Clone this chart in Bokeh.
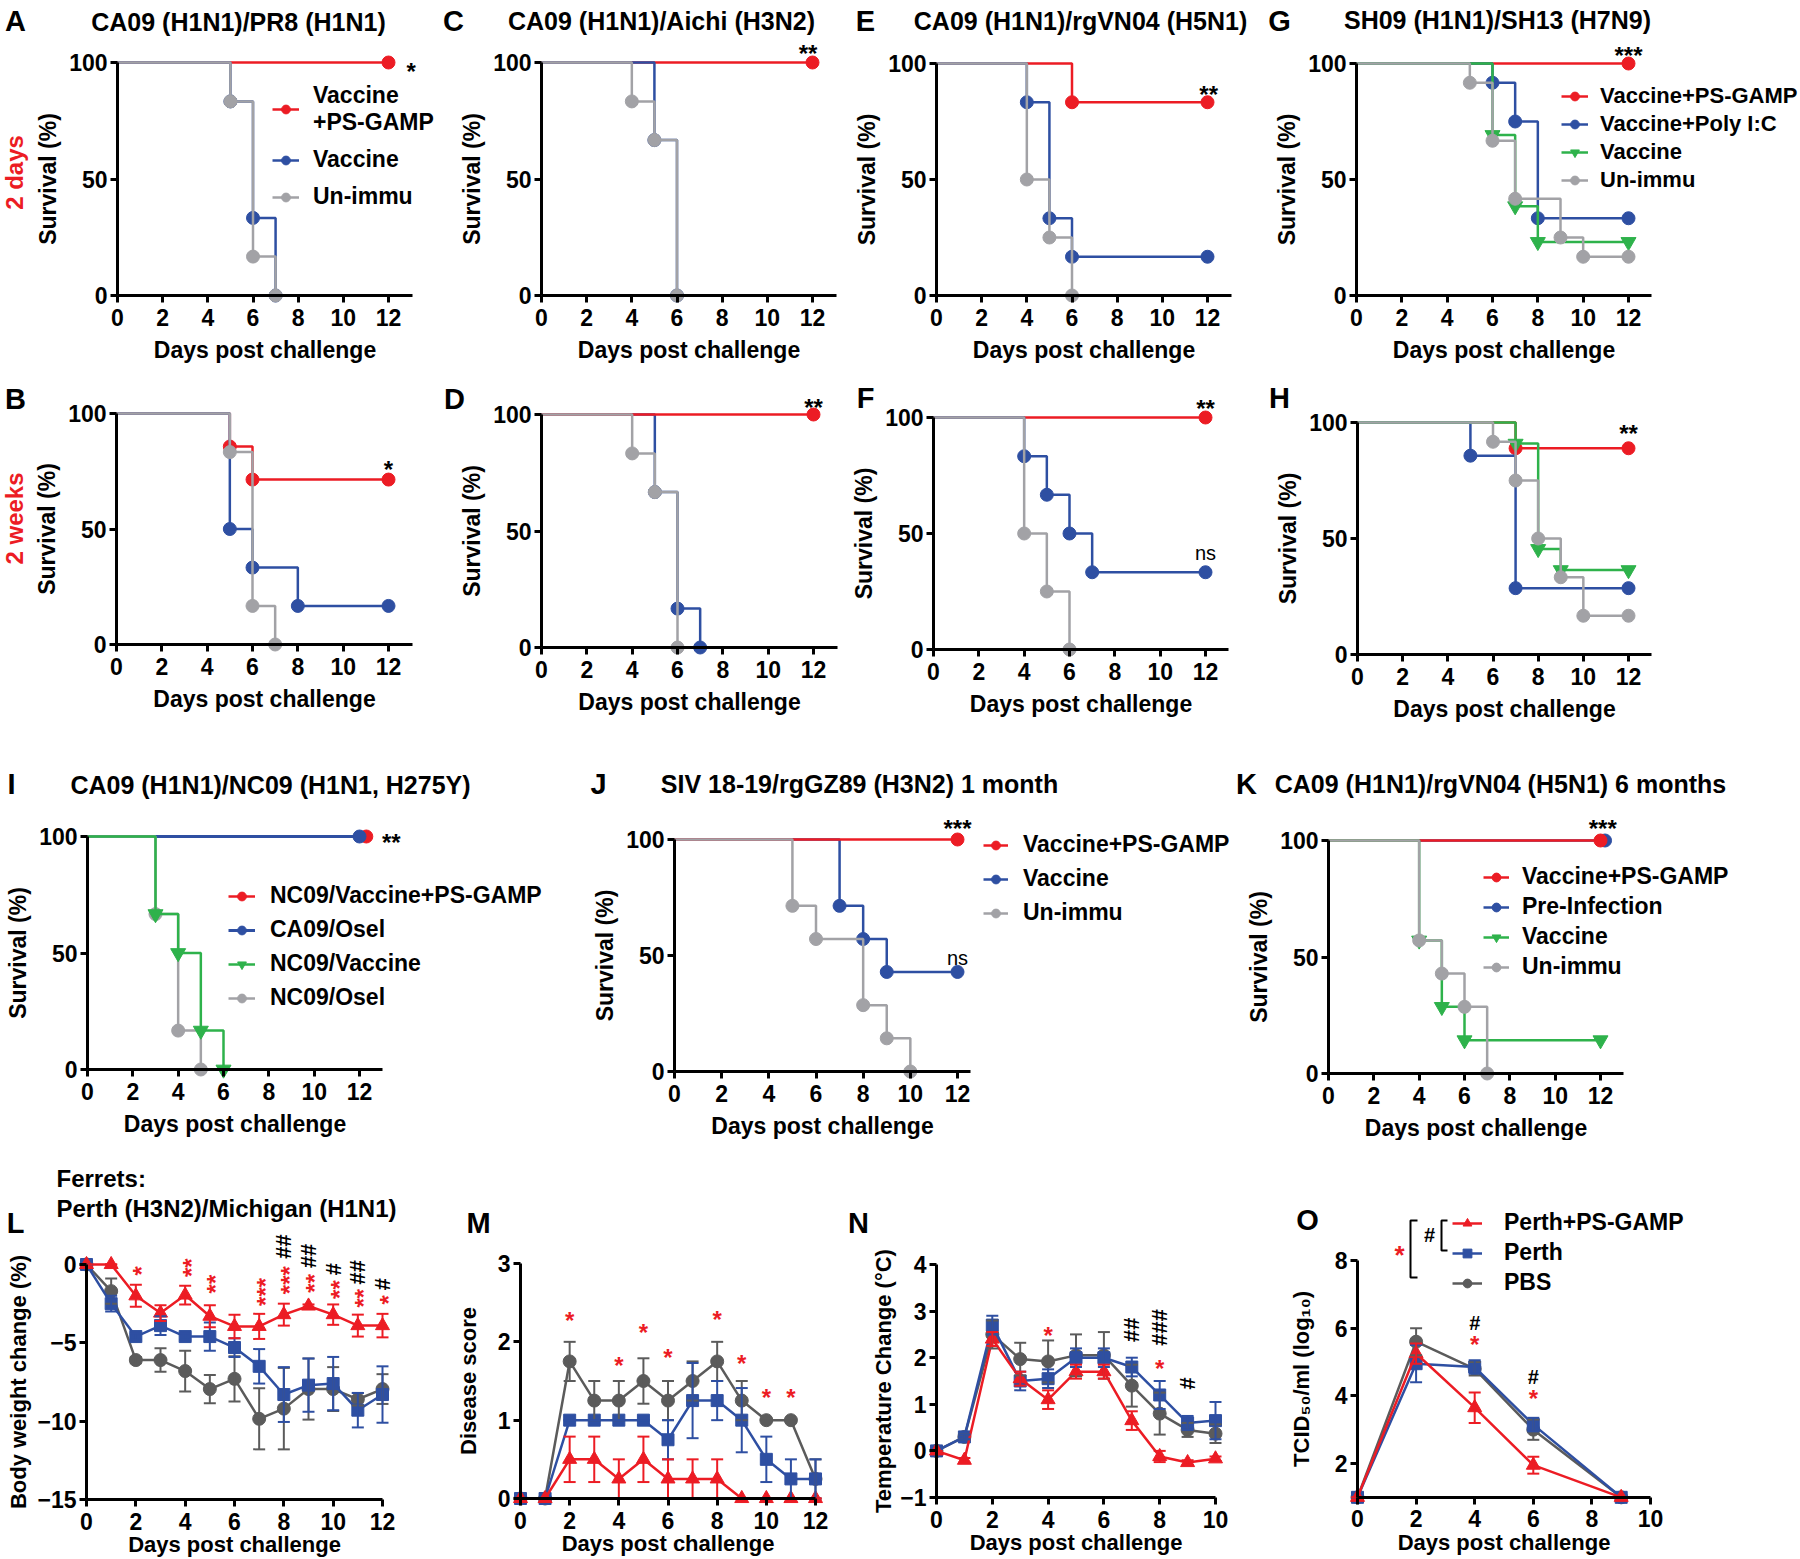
import math
from bokeh.plotting import figure
from bokeh.models import (Range1d, FixedTicker, Label, Legend, LegendItem,
                          ColumnDataSource, Whisker, TeeHead)
from bokeh.layouts import column, row
from bokeh.embed import file_html
from bokeh.resources import INLINE

RED = "#EC1C24"
BLUE = "#2E4FA2"
GRAY = "#A2A2A6"
GREEN = "#2EB24B"
DGRAY = "#5B5B5B"
FONT = "Liberation Sans"

# ---------------- survival data (day, % surviving) ----------------
A_psgamp_day = [0, 12];              A_psgamp_pct = [100, 100]
A_vacc_day = [0, 5, 6, 7];           A_vacc_pct = [100, 83.3, 33.3, 0]
A_unimm_day = [0, 5, 6, 7];          A_unimm_pct = [100, 83.3, 16.7, 0]

C_psgamp_day = [0, 12];              C_psgamp_pct = [100, 100]
C_vacc_day = [0, 5, 6];              C_vacc_pct = [100, 66.7, 0]
C_unimm_day = [0, 4, 5, 6];          C_unimm_pct = [100, 83.3, 66.7, 0]

E_psgamp_day = [0, 6, 12];           E_psgamp_pct = [100, 83.3, 83.3]
E_vacc_day = [0, 4, 5, 6, 12];       E_vacc_pct = [100, 83.3, 33.3, 16.7, 16.7]
E_unimm_day = [0, 4, 5, 6];          E_unimm_pct = [100, 50, 25, 0]

G_psgamp_day = [0, 12];              G_psgamp_pct = [100, 100]
G_polyic_day = [0, 6, 7, 8, 12];     G_polyic_pct = [100, 91.7, 75, 33.3, 33.3]
G_vacc_day = [0, 6, 7, 8, 12];       G_vacc_pct = [100, 69.2, 38.5, 23.1, 23.1]
G_unimm_day = [0, 5, 6, 7, 9, 10, 12]; G_unimm_pct = [100, 91.7, 66.7, 41.7, 25, 16.7, 16.7]

B_psgamp_day = [0, 5, 6, 12];        B_psgamp_pct = [100, 85.7, 71.4, 71.4]
B_vacc_day = [0, 5, 6, 8, 12];       B_vacc_pct = [100, 50, 33.3, 16.7, 16.7]
B_unimm_day = [0, 5, 6, 7];          B_unimm_pct = [100, 83.3, 16.7, 0]

D_psgamp_day = [0, 12];              D_psgamp_pct = [100, 100]
D_vacc_day = [0, 5, 6, 7];           D_vacc_pct = [100, 66.7, 16.7, 0]
D_unimm_day = [0, 4, 5, 6];          D_unimm_pct = [100, 83.3, 66.7, 0]

F_psgamp_day = [0, 12];              F_psgamp_pct = [100, 100]
F_vacc_day = [0, 4, 5, 6, 7, 12];    F_vacc_pct = [100, 83.3, 66.7, 50, 33.3, 33.3]
F_unimm_day = [0, 4, 5, 6];          F_unimm_pct = [100, 50, 25, 0]

H_psgamp_day = [0, 7, 12];           H_psgamp_pct = [100, 88.9, 88.9]
H_polyic_day = [0, 5, 7, 12];        H_polyic_pct = [100, 85.7, 28.6, 28.6]
H_vacc_day = [0, 7, 8, 9, 12];       H_vacc_pct = [100, 90.9, 45.5, 36.4, 36.4]
H_unimm_day = [0, 6, 7, 8, 9, 10, 12]; H_unimm_pct = [100, 91.7, 75, 50, 33.3, 16.7, 16.7]

I_nc09_psgamp_day = [0, 12.3];       I_nc09_psgamp_pct = [100, 100]
I_ca09_osel_day = [0, 12];           I_ca09_osel_pct = [100, 100]
I_nc09_vacc_day = [0, 3, 4, 5, 6];   I_nc09_vacc_pct = [100, 66.7, 50, 16.7, 0]
I_nc09_osel_day = [0, 3, 4, 5];      I_nc09_osel_pct = [100, 66.7, 16.7, 0]

J_psgamp_day = [0, 12];              J_psgamp_pct = [100, 100]
J_vacc_day = [0, 7, 8, 9, 12];       J_vacc_pct = [100, 71.4, 57.1, 42.9, 42.9]
J_unimm_day = [0, 5, 6, 8, 9, 10];   J_unimm_pct = [100, 71.4, 57.1, 28.6, 14.3, 0]

K_psgamp_day = [0, 12];              K_psgamp_pct = [100, 100]
K_preinf_day = [0, 12.2];            K_preinf_pct = [100, 100]
K_vacc_day = [0, 4, 5, 6, 12];       K_vacc_pct = [100, 57.1, 28.6, 14.3, 14.3]
K_unimm_day = [0, 4, 5, 6, 7];       K_unimm_pct = [100, 57.1, 42.9, 28.6, 0]

SURV_X_TICKS = [0, 2, 4, 6, 8, 10, 12]
SURV_Y_TICKS = [0, 50, 100]

# significance marks (day, %, text)
A_sig = [(13.0, 98.7, "*")]
C_sig = [(11.8, 106.4, "**")]
E_sig = [(12.05, 89.3, "**")]
G_sig = [(12.0, 106.0, "***")]
B_sig = [(12.0, 78.4, "*")]
D_sig = [(12.0, 105.6, "**")]
F_sig = [(12.0, 106.5, "**")]
F_ns = [(12.0, 41.8, "ns")]
H_sig = [(12.0, 97.8, "**")]
I_sig = [(13.4, 100.0, "**")]
J_sig = [(12.0, 107.3, "***")]
J_ns = [(12.0, 49.1, "ns")]
K_sig = [(12.1, 107.7, "***")]

# ---------------- ferret data ----------------
L_day = [0, 1, 2, 3, 4, 5, 6, 7, 8, 9, 10, 11, 12]
L_psgamp = [0, 0, -2.0, -3.1, -1.95, -3.3, -3.95, -3.95, -3.2, -2.65, -3.2, -3.9, -3.9]
L_psgamp_sem = [0, 0, 0.7, 0.5, 0.6, 0.7, 0.75, 0.8, 0.7, 0.1, 0.65, 0.7, 0.75]
L_perth = [0, -2.5, -4.6, -3.9, -4.6, -4.6, -5.3, -6.5, -8.3, -7.7, -7.6, -9.3, -8.3]
L_perth_sem = [0, 0.5, 0.2, 0.6, 0.2, 0.9, 0.6, 1.1, 1.75, 1.7, 1.7, 1.1, 1.8]
L_pbs = [0, -1.7, -6.1, -6.1, -6.8, -7.95, -7.3, -9.85, -9.2, -7.95, -7.95, -8.6, -7.95]
L_pbs_sem = [0, 0.8, 0.2, 0.75, 1.3, 0.9, 1.45, 1.95, 2.6, 1.95, 1.4, 0.4, 0.95]
L_star_day = [2, 4, 5, 7, 8, 9, 10, 11, 12]
L_star_y = [-0.4, -0.2, -1.25, -1.75, -1.0, -1.2, -1.6, -2.15, -2.25]
L_star_txt = ["*", "**", "**", "***", "***", "**", "**", "**", "*"]
L_hash_day = [8, 9, 10, 11, 12]
L_hash_y = [1.15, 0.55, -0.3, -0.5, -1.25]
L_hash_txt = ["##", "##", "#", "##", "#"]

M_day = [0, 1, 2, 3, 4, 5, 6, 7, 8, 9, 10, 11, 12]
M_psgamp = [0, 0, 0.5, 0.5, 0.25, 0.5, 0.25, 0.25, 0.25, 0, 0, 0, 0]
M_psgamp_sem = [0, 0, 0.29, 0.29, 0.25, 0.29, 0.25, 0.25, 0.25, 0, 0, 0, 0]
M_perth = [0, 0, 1, 1, 1, 1, 0.75, 1.25, 1.25, 1.0, 0.5, 0.25, 0.25]
M_perth_sem = [0, 0, 0, 0, 0, 0, 0.25, 0.48, 0.25, 0.41, 0.29, 0.25, 0.25]
M_pbs = [0, 0, 1.75, 1.25, 1.25, 1.5, 1.25, 1.5, 1.75, 1.25, 1.0, 1.0, 0.25]
M_pbs_sem = [0, 0, 0.25, 0.25, 0.25, 0.29, 0.25, 0.25, 0.25, 0.25, 0, 0, 0.25]
M_star_day = [2, 4, 5, 6, 8, 9, 10, 11]
M_star_y = [2.35, 1.78, 2.2, 1.88, 2.36, 1.8, 1.36, 1.36]

N_day = [0, 1, 2, 3, 4, 5, 6, 7, 8, 9, 10]
N_psgamp = [0, -0.2, 2.4, 1.55, 1.1, 1.7, 1.7, 0.65, -0.12, -0.25, -0.17]
N_psgamp_sem = [0, 0.05, 0.15, 0.15, 0.2, 0.15, 0.15, 0.2, 0.12, 0.05, 0.05]
N_perth = [0, 0.3, 2.7, 1.5, 1.55, 2.0, 2.0, 1.8, 1.2, 0.6, 0.65]
N_perth_sem = [0, 0.05, 0.2, 0.2, 0.2, 0.2, 0.2, 0.2, 0.3, 0.15, 0.4]
N_pbs = [0, 0.3, 2.5, 1.97, 1.92, 2.05, 2.05, 1.4, 0.8, 0.45, 0.37]
N_pbs_sem = [0, 0.05, 0.3, 0.35, 0.45, 0.45, 0.5, 0.45, 0.45, 0.15, 0.2]
N_star_day = [4, 8]
N_star_y = [2.6, 1.9]
N_hash_day = [7, 8, 9]
N_hash_y = [2.6, 2.65, 1.45]
N_hash_txt = ["##", "###", "#"]

O_day = [0, 2, 4, 6, 9]
O_psgamp = [1, 5.25, 3.65, 1.95, 1]
O_psgamp_sem = [0, 0.3, 0.45, 0.25, 0]
O_perth = [1, 4.95, 4.85, 3.15, 1]
O_perth_sem = [0, 0.55, 0.2, 0.2, 0]
O_pbs = [1, 5.6, 4.8, 3.0, 1]
O_pbs_sem = [0, 0.4, 0.2, 0.3, 0]
O_star_day = [4, 6]
O_star_y = [5.7, 4.1]
O_hash_day = [4, 6]
O_hash_y = [6.15, 4.55]


class Panel:
    def __init__(self, col, rows, xa, ya):
        self.c0, self.c1 = col
        self.r0, self.r1 = rows
        (self.px0, self.vx0), (px1, vx1) = xa
        self.kx = (vx1 - self.vx0) / (px1 - self.px0)
        (self.py0, self.vy0), (py1, vy1) = ya
        self.ky = (vy1 - self.vy0) / (py1 - self.py0)
        p = figure(width=self.c1 - self.c0, height=self.r1 - self.r0,
                   x_range=Range1d(self.dx(self.c0), self.dx(self.c1)),
                   y_range=Range1d(self.dy(self.r1), self.dy(self.r0)),
                   output_backend="svg", toolbar_location=None, tools="",
                   min_border=0, title=None)
        p.outline_line_color = None
        p.xgrid.visible = False
        p.ygrid.visible = False
        self.p = p

    def dx(self, px):
        return self.vx0 + (px - self.px0) * self.kx

    def dy(self, py):
        return self.vy0 + (py - self.py0) * self.ky

    def sx(self, x):
        return self.px0 + (x - self.vx0) / self.kx

    def sy(self, y):
        return self.py0 + (y - self.vy0) / self.ky

    def axes(self, xticks, yticks, xb, yb, xlabel, ylabel,
             x_lab_so=6, x_title_so=8, y_lab_so=3, y_title_so=5, title_px=23):
        p = self.p
        xa, ya = p.xaxis[0], p.yaxis[0]
        for ax in (xa, ya):
            ax.axis_line_width = 3
            ax.axis_line_color = "black"
            ax.major_tick_line_width = 3
            ax.major_tick_line_color = "black"
            ax.major_tick_in = 0
            ax.major_tick_out = 7
            ax.minor_tick_line_color = None
            ax.major_label_text_font = FONT
            ax.major_label_text_font_style = "bold"
            ax.major_label_text_font_size = "23px"
            ax.major_label_text_color = "black"
            ax.axis_label_text_font = FONT
            ax.axis_label_text_font_style = "bold"
            ax.axis_label_text_font_size = f"{title_px}px"
            ax.axis_label_text_color = "black"
        xa.ticker = FixedTicker(ticks=xticks)
        ya.ticker = FixedTicker(ticks=yticks)
        xa.bounds = xb
        ya.bounds = yb
        xa.fixed_location = yb[0]
        ya.fixed_location = xb[0]
        xa.axis_label = xlabel
        ya.axis_label = ylabel
        xa.major_label_standoff = x_lab_so
        xa.axis_label_standoff = x_title_so
        ya.major_label_standoff = y_lab_so
        ya.axis_label_standoff = y_title_so

    def km(self, day, pct, color, marker="circle", size=13, width=2.5):
        lr = self.p.step(day, pct, mode="after", line_color=color, line_width=width)
        sr = self.p.scatter(day[1:], pct[1:], marker=marker, size=size,
                            fill_color=color, line_color=color)
        return [lr, sr]

    def series(self, x, y, err, color, marker, size=13):
        p = self.p
        lo = [a - e for a, e in zip(y, err)]
        hi = [a + e for a, e in zip(y, err)]
        src = ColumnDataSource(dict(x=x, lo=lo, hi=hi))
        p.add_layout(Whisker(source=src, base="x", lower="lo", upper="hi",
                             line_color=color, line_width=2, level="glyph",
                             upper_head=TeeHead(size=12, line_color=color, line_width=2),
                             lower_head=TeeHead(size=12, line_color=color, line_width=2)))
        lr = p.line(x, y, line_color=color, line_width=2.5)
        sr = p.scatter(x, y, marker=marker, size=size, fill_color=color, line_color=color)
        return [lr, sr]

    def legend(self, entries, left_px, bottom_px, spacing, glyph_w=27, standoff=14,
               font_px=23):
        items = [LegendItem(label=l, renderers=r) for l, r in entries]
        leg = Legend(items=items, location=(left_px - self.c0, self.r1 - bottom_px),
                     padding=0, margin=0, spacing=spacing, glyph_width=glyph_w,
                     glyph_height=22, label_height=22, label_standoff=standoff,
                     label_text_font=FONT, label_text_font_style="bold",
                     label_text_font_size=f"{font_px}px", label_text_color="black",
                     border_line_color=None, background_fill_alpha=0)
        self.p.add_layout(leg)

    def txt(self, px, py, s, size=25, color="black", font=FONT, style="bold",
            align="center", angle=0.0):
        self.p.add_layout(Label(x=self.dx(px), y=self.dy(py), text=s, text_font=font,
                                text_font_size=f"{size}px", text_font_style=style,
                                text_color=color, text_align=align,
                                text_baseline="middle", angle=angle))

    def letter(self, px, py, s):
        self.txt(px, py, s, size=29)

    def mark(self, x, y, s, color="black", size=24, style="bold", rotated=False):
        # place a significance mark centred on data point (x, y)
        px, py = self.sx(x), self.sy(y)
        if s.startswith("*"):
            if rotated:
                px += 6
            else:
                py += 6
        self.txt(px, py, s, size=size, color=color, style=style,
                 angle=(math.pi / 2 if rotated else 0.0))


def survival(col, rows, xa, ya, xb, ylab_so=5):
    P = Panel(col, rows, xa, ya)
    P.axes(SURV_X_TICKS, SURV_Y_TICKS, xb, (0, 100), "Days post challenge", "Survival (%)",
           y_title_so=ylab_so)
    return P


R1, R2, R3, R4 = (0, 368), (368, 752), (752, 1140), (1140, 1558)

# ---------------- row 1 ----------------
pA = survival((0, 437), R1, ((117, 0), (388, 12)), ((62, 100), (295, 0)), (0, 13.05))
rA1 = pA.km(A_psgamp_day, A_psgamp_pct, RED)
rA2 = pA.km(A_vacc_day, A_vacc_pct, BLUE)
rA3 = pA.km(A_unimm_day, A_unimm_pct, GRAY)
pA.legend([("Vaccine\n+PS-GAMP", rA1), ("Vaccine", rA2), ("Un-immu", rA3)], 272, 210, 10)
pA.letter(15, 20, "A")
pA.txt(238, 21, "CA09 (H1N1)/PR8 (H1N1)")
pA.txt(14, 172, "2 days", size=24, color=RED, angle=math.pi / 2)

pC = survival((437, 845), R1, ((541, 0), (812, 12)), ((62, 100), (295, 0)), (0, 13.05))
rC1 = pC.km(C_psgamp_day, C_psgamp_pct, RED)
rC2 = pC.km(C_vacc_day, C_vacc_pct, BLUE)
rC3 = pC.km(C_unimm_day, C_unimm_pct, GRAY)
pC.letter(453, 20, "C")
pC.txt(661, 20, "CA09 (H1N1)/Aichi (H3N2)")

pE = survival((845, 1265), R1, ((936, 0), (1207, 12)), ((63, 100), (295, 0)), (0, 13.07))
rE1 = pE.km(E_psgamp_day, E_psgamp_pct, RED)
rE2 = pE.km(E_vacc_day, E_vacc_pct, BLUE)
rE3 = pE.km(E_unimm_day, E_unimm_pct, GRAY)
pE.letter(865, 20, "E")
pE.txt(1080, 20, "CA09 (H1N1)/rgVN04 (H5N1)")

pG = survival((1265, 1800), R1, ((1356, 0), (1628, 12)), ((63, 100), (295, 0)), (0, 13.0))
rG1 = pG.km(G_psgamp_day, G_psgamp_pct, RED)
rG2 = pG.km(G_polyic_day, G_polyic_pct, BLUE)
rG3 = pG.km(G_vacc_day, G_vacc_pct, GREEN, marker="inverted_triangle", size=15)
rG4 = pG.km(G_unimm_day, G_unimm_pct, GRAY)
pG.legend([("Vaccine+PS-GAMP", rG1), ("Vaccine+Poly I:C", rG2), ("Vaccine", rG3),
           ("Un-immu", rG4)], 1561, 193, 2, standoff=12, font_px=22)
pG.letter(1279, 20, "G")
pG.txt(1497, 19, "SH09 (H1N1)/SH13 (H7N9)")

# ---------------- row 2 ----------------
pB = survival((0, 437), R2, ((116, 0), (388, 12)), ((413, 100), (644, 0)), (0, 13.06))
rB1 = pB.km(B_psgamp_day, B_psgamp_pct, RED)
rB2 = pB.km(B_vacc_day, B_vacc_pct, BLUE)
rB3 = pB.km(B_unimm_day, B_unimm_pct, GRAY)
pB.letter(15, 398, "B")
pB.txt(14, 518, "2 weeks", size=24, color=RED, angle=math.pi / 2)

pD = survival((437, 845), R2, ((541, 0), (813, 12)), ((414, 100), (647, 0)), (0, 13.05))
rD2 = pD.km(D_vacc_day, D_vacc_pct, BLUE)
rD1 = pD.km(D_psgamp_day, D_psgamp_pct, RED)
rD3 = pD.km(D_unimm_day, D_unimm_pct, GRAY)
pD.letter(454, 398, "D")

pF = survival((845, 1265), R2, ((933, 0), (1205, 12)), ((417, 100), (649, 0)), (0, 13.0))
rF1 = pF.km(F_psgamp_day, F_psgamp_pct, RED)
rF2 = pF.km(F_vacc_day, F_vacc_pct, BLUE)
rF3 = pF.km(F_unimm_day, F_unimm_pct, GRAY)
pF.letter(865, 397, "F")

pH = survival((1265, 1800), R2, ((1357, 0), (1628, 12)), ((422, 100), (654, 0)), (0, 13.0))
rH1 = pH.km(H_psgamp_day, H_psgamp_pct, RED)
rH2 = pH.km(H_polyic_day, H_polyic_pct, BLUE)
rH3 = pH.km(H_vacc_day, H_vacc_pct, GREEN, marker="inverted_triangle", size=15)
rH4 = pH.km(H_unimm_day, H_unimm_pct, GRAY)
pH.letter(1279, 397, "H")

# ---------------- row 3 ----------------
pI = survival((0, 582), R3, ((87, 0), (359, 12)), ((836, 100), (1069, 0)), (0, 13.0))
rI1 = pI.km(I_nc09_psgamp_day, I_nc09_psgamp_pct, RED)
rI2 = pI.km(I_ca09_osel_day, I_ca09_osel_pct, BLUE, width=3)
rI4 = pI.km(I_nc09_osel_day, I_nc09_osel_pct, GRAY)
rI3 = pI.km(I_nc09_vacc_day, I_nc09_vacc_pct, GREEN, marker="inverted_triangle", size=15)
pI.legend([("NC09/Vaccine+PS-GAMP", rI1), ("CA09/Osel", rI2), ("NC09/Vaccine", rI3),
           ("NC09/Osel", rI4)], 228, 1011, 7, standoff=15)
pI.letter(11, 783, "I")
pI.txt(270, 784, "CA09 (H1N1)/NC09 (H1N1, H275Y)")

pJ = survival((582, 1234), R3, ((674, 0), (957, 12)), ((839, 100), (1071, 0)), (0, 12.55))
rJ2 = pJ.km(J_vacc_day, J_vacc_pct, BLUE)
rJ1 = pJ.km(J_psgamp_day, J_psgamp_pct, RED)
rJ3 = pJ.km(J_unimm_day, J_unimm_pct, GRAY)
pJ.legend([("Vaccine+PS-GAMP", rJ1), ("Vaccine", rJ2), ("Un-immu", rJ3)], 983, 926, 7,
          glyph_w=25, standoff=15)
pJ.letter(598, 783, "J")
pJ.txt(859, 783, "SIV 18-19/rgGZ89 (H3N2) 1 month")

pK = survival((1234, 1800), R3, ((1328, 0), (1600, 12)), ((840, 100), (1073, 0)), (0, 13.0))
rK2 = pK.km(K_preinf_day, K_preinf_pct, BLUE)
rK1 = pK.km(K_psgamp_day, K_psgamp_pct, RED)
rK3 = pK.km(K_vacc_day, K_vacc_pct, GREEN, marker="inverted_triangle", size=15)
rK4 = pK.km(K_unimm_day, K_unimm_pct, GRAY)
pK.legend([("Vaccine+PS-GAMP", rK1), ("Pre-Infection", rK2), ("Vaccine", rK3),
           ("Un-immu", rK4)], 1483, 980, 3, glyph_w=26, standoff=13)
pK.letter(1246, 783, "K")
pK.txt(1500, 783, "CA09 (H1N1)/rgVN04 (H5N1) 6 months")

for P, sig in ((pA, A_sig), (pC, C_sig), (pE, E_sig), (pG, G_sig), (pB, B_sig), (pD, D_sig),
               (pF, F_sig), (pH, H_sig), (pI, I_sig), (pJ, J_sig), (pK, K_sig)):
    for x, y, s in sig:
        P.mark(x, y, s)
for P, ns in ((pF, F_ns), (pJ, J_ns)):
    for x, y, s in ns:
        P.mark(x, y, s, size=20, style="normal")

# ---------------- row 4 ----------------
pL = Panel((0, 450), R4, ((86, 0), (382, 12)), ((1264, 0), (1499, -15)))
pL.axes([0, 2, 4, 6, 8, 10, 12], [0, -5, -10, -15], (0, 12), (-15, 0),
        "Days post challenge", "Body weight change (%)",
        x_lab_so=6, x_title_so=-1, y_title_so=3, title_px=22)
pL.series(L_day, L_pbs, L_pbs_sem, DGRAY, "circle")
pL.series(L_day, L_perth, L_perth_sem, BLUE, "square", size=12)
pL.series(L_day, L_psgamp, L_psgamp_sem, RED, "triangle", size=14)
for x, y, s in zip(L_star_day, L_star_y, L_star_txt):
    pL.mark(x, y, s, color=RED, rotated=True)
for x, y, s in zip(L_hash_day, L_hash_y, L_hash_txt):
    pL.mark(x, y, s, size=22, rotated=True)
pL.letter(15, 1222, "L")
pL.txt(56, 1178, "Ferrets:", size=24, align="left")
pL.txt(56, 1208, "Perth (H3N2)/Michigan (H1N1)", size=24, align="left")

pM = Panel((450, 835), R4, ((520, 0), (815, 12)), ((1263, 3), (1498, 0)))
pM.axes([0, 2, 4, 6, 8, 10, 12], [0, 1, 2, 3], (0, 12), (0, 3),
        "Days post challenge", "Disease score",
        x_lab_so=6, x_title_so=-1, y_title_so=14, title_px=22)
pM.series(M_day, M_pbs, M_pbs_sem, DGRAY, "circle")
pM.series(M_day, M_perth, M_perth_sem, BLUE, "square", size=12)
pM.series(M_day, M_psgamp, M_psgamp_sem, RED, "triangle", size=14)
for x, y in zip(M_star_day, M_star_y):
    pM.mark(x, y, "*", color=RED)
pM.letter(478, 1222, "M")

pN = Panel((835, 1280), R4, ((936, 0), (1215, 10)), ((1264, 4), (1497, -1)))
pN.axes([0, 2, 4, 6, 8, 10], [-1, 0, 1, 2, 3, 4], (0, 10), (-1, 4),
        "Days post challenge", "Temperature Change (°C)",
        x_lab_so=6, x_title_so=-1, y_title_so=1, title_px=22)
pN.series(N_day, N_pbs, N_pbs_sem, DGRAY, "circle")
pN.series(N_day, N_perth, N_perth_sem, BLUE, "square", size=12)
pN.series(N_day, N_psgamp, N_psgamp_sem, RED, "triangle", size=14)
for x, y in zip(N_star_day, N_star_y):
    pN.mark(x, y, "*", color=RED)
for x, y, s in zip(N_hash_day, N_hash_y, N_hash_txt):
    pN.mark(x, y, s, size=22, rotated=True)
pN.letter(858, 1222, "N")

pO = Panel((1280, 1800), R4, ((1357, 0), (1650, 10)), ((1260, 8), (1463, 2)))
pO.axes([0, 2, 4, 6, 8, 10], [2, 4, 6, 8], (0, 10), (1, 8),
        "Days post challenge", "TCID\u2085\u2080/ml (log\u2081\u2080)",
        x_lab_so=6, x_title_so=-1, y_title_so=18, title_px=22)
rO3 = pO.series(O_day, O_pbs, O_pbs_sem, DGRAY, "circle")
rO2 = pO.series(O_day, O_perth, O_perth_sem, BLUE, "square", size=12)
rO1 = pO.series(O_day, O_psgamp, O_psgamp_sem, RED, "triangle", size=14)
pO.legend([("Perth+PS-GAMP", rO1), ("Perth", rO2), ("PBS", rO3)], 1452, 1296, 3,
          glyph_w=30, standoff=22)
for x, y in zip(O_star_day, O_star_y):
    pO.mark(x, y, "*", color=RED)
for x, y in zip(O_hash_day, O_hash_y):
    pO.mark(x, y, "#", size=20)
# comparison brackets beside the legend
pO.p.multi_line(xs=[[pO.dx(1417), pO.dx(1410), pO.dx(1410), pO.dx(1417)],
                    [pO.dx(1447), pO.dx(1441), pO.dx(1441), pO.dx(1447)]],
                ys=[[pO.dy(1220), pO.dy(1220), pO.dy(1277), pO.dy(1277)],
                    [pO.dy(1220), pO.dy(1220), pO.dy(1250), pO.dy(1250)]],
                line_color="black", line_width=2)
pO.txt(1399, 1254, "*", size=26, color=RED)
pO.txt(1429, 1234, "#", size=20)
pO.letter(1307, 1219, "O")

layout = column(
    row(pA.p, pC.p, pE.p, pG.p),
    row(pB.p, pD.p, pF.p, pH.p),
    row(pI.p, pJ.p, pK.p),
    row(pL.p, pM.p, pN.p, pO.p),
)

open("out.html", "w").write(file_html(layout, INLINE))
